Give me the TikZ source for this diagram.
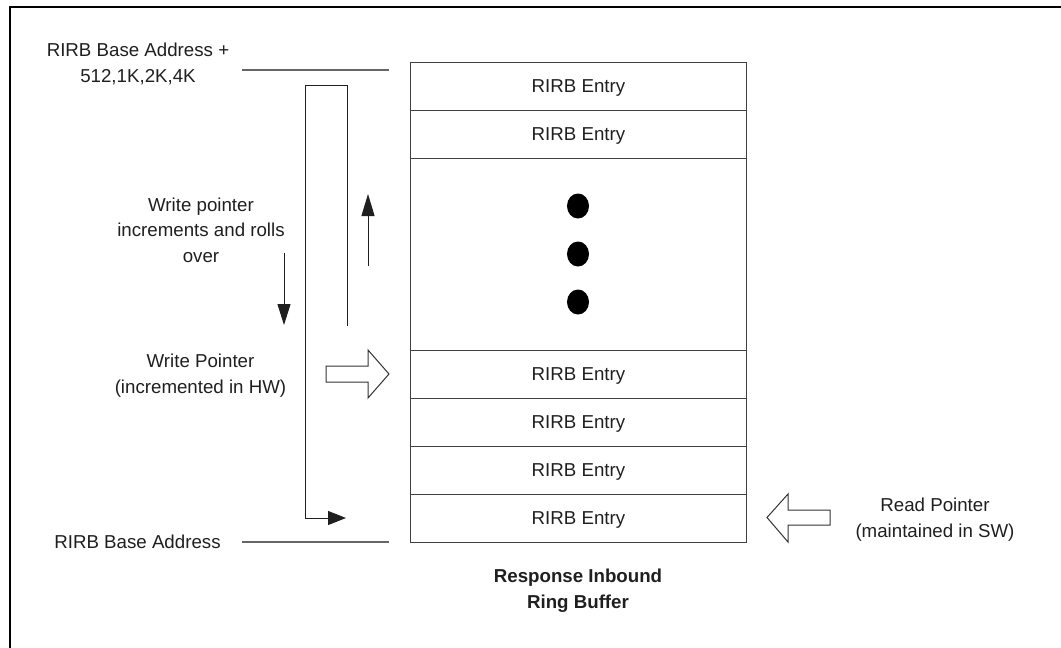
\documentclass[tikz,border=0pt]{standalone}
\usepackage{fontspec}
\setmainfont{Liberation Sans}
\usetikzlibrary{arrows.meta}
\begin{document}
\begin{tikzpicture}[x=1pt,y=-1pt,
  lbl/.style={font=\fontsize{18.7}{25.5}\selectfont, align=center, inner sep=0pt, text=black!88, anchor=base},
  cell/.style={draw=black!75, line width=1pt, minimum width=336pt, inner sep=0pt, anchor=north west,
               font=\fontsize{18.7}{22}\selectfont, text depth=0pt, text=black!88},
  thinline/.style={line width=1pt, draw=black!88},
  addrline/.style={line width=1.3pt, draw=black!60},
  blockarrow/.style={line width=1pt, draw=black!80, fill=white, line join=miter},
  frameline/.style={line width=2pt, draw=black},
  dotmark/.style={fill=black}]
\useasboundingbox (0,0) rectangle (1061,648);
% frame (top and left edges only)
\draw[frameline] (10,648) -- (10,7) -- (1061,7);

% ring buffer cells
\node[cell, minimum height=48pt]  (r1) at (410,62)  {RIRB Entry};
\node[cell, minimum height=48pt]  (r2) at (410,110) {RIRB Entry};
\node[cell, minimum height=192pt] (r3) at (410,158) {};
\node[cell, minimum height=48pt]  (r4) at (410,350) {RIRB Entry};
\node[cell, minimum height=48pt]  (r5) at (410,398) {RIRB Entry};
\node[cell, minimum height=48pt]  (r6) at (410,446) {RIRB Entry};
\node[cell, minimum height=48pt]  (r7) at (410,494) {RIRB Entry};

% dots
\fill[dotmark] (578,206) ellipse [x radius=11, y radius=12.5];
\fill[dotmark] (578,254) ellipse [x radius=11, y radius=12.5];
\fill[dotmark] (578,302) ellipse [x radius=11, y radius=12.5];

% address labels and lines (base anchor = baseline of last line)
\node[lbl] (topaddr) at (138,82) {RIRB Base Address +\\512,1K,2K,4K};
\node[lbl] (botaddr) at (137.5,548) {RIRB Base Address};
\coordinate (ta1) at (242,70);  \coordinate (ta2) at (389,70);
\coordinate (ba1) at (242,542); \coordinate (ba2) at (389,542);
\draw[addrline] (ta1) -- (ta2);
\draw[addrline] (ba1) -- (ba2);

% pointer labels
\node[lbl] (wpinc) at (201,262) {Write pointer\\increments and rolls\\over};
\node[lbl] (wp) at (200.5,393) {Write Pointer\\(incremented in HW)};
\node[lbl] (rp) at (935,537) {Read Pointer\\(maintained in SW)};
\node[lbl, font=\bfseries\fontsize{18.7}{25.5}\selectfont] (title) at (578,608) {Response Inbound\\Ring Buffer};

% roll-over loop
\coordinate (l1) at (347,326);
\coordinate (l2) at (347,85);
\coordinate (l3) at (305,85);
\coordinate (l4) at (305,518);
\coordinate (l5) at (346,518);
\draw[thinline, -{Triangle[length=18pt,width=14pt]}] (l1) -- (l2) -- (l3) -- (l4) -- (l5);

% up and down arrows
\coordinate (u1) at (368,266); \coordinate (u2) at (368,194);
\draw[thinline, -{Triangle[length=22pt,width=13pt]}] (u1) -- (u2);
\coordinate (d1) at (284,253); \coordinate (d2) at (284,325);
\draw[thinline, -{Triangle[length=21pt,width=13pt]}] (d1) -- (d2);

% block arrows
\draw[blockarrow] (326,366) -- (368,366) -- (368,350) -- (389,374) -- (368,398) -- (368,382) -- (326,382) -- cycle;
\draw[blockarrow] (830,510) -- (788,510) -- (788,494) -- (767,517.5) -- (788,542) -- (788,525) -- (830,525) -- cycle;
\end{tikzpicture}
\end{document}
